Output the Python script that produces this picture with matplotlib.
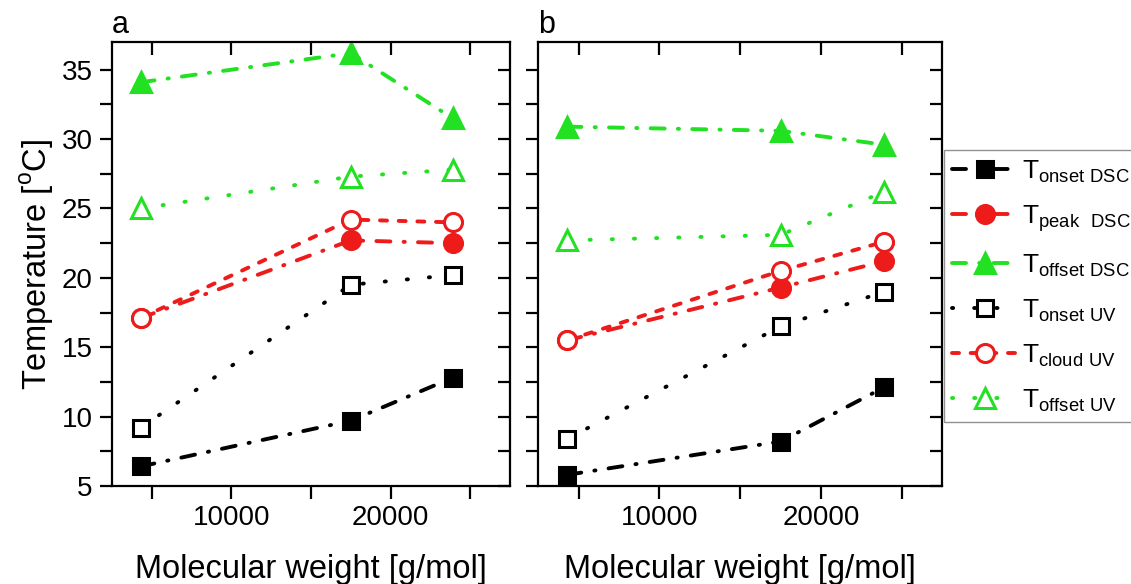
import matplotlib
matplotlib.use("Agg")
import matplotlib.pyplot as plt
from matplotlib.ticker import MultipleLocator

plt.rcParams['font.family'] = ['Liberation Sans', 'DejaVu Sans']
plt.rcParams['mathtext.fontset'] = 'custom'
plt.rcParams['mathtext.rm'] = 'Liberation Sans'

# molecular weights [g/mol]
mw = [4300, 17500, 23900]

# panel a
a_onset_dsc = [6.4, 9.7, 12.8]
a_peak_dsc = [17.1, 22.7, 22.5]
a_offset_dsc = [34.1, 36.2, 31.5]
a_onset_uv = [9.2, 19.5, 20.2]
a_cloud_uv = [17.1, 24.2, 24.0]
a_offset_uv = [25.0, 27.3, 27.8]

# panel b
b_onset_dsc = [5.8, 8.2, 12.1]
b_peak_dsc = [15.5, 19.3, 21.2]
b_offset_dsc = [30.9, 30.6, 29.6]
b_onset_uv = [8.4, 16.5, 19.0]
b_cloud_uv = [15.5, 20.5, 22.6]
b_offset_uv = [22.7, 23.1, 26.2]

labels = [r'T$_{\mathrm{onset\ DSC}}$', r'T$_{\mathrm{peak\ \ DSC}}$', r'T$_{\mathrm{offset\ DSC}}$',
          r'T$_{\mathrm{onset\ UV}}$', r'T$_{\mathrm{cloud\ UV}}$', r'T$_{\mathrm{offset\ UV}}$']

black = 'black'
red = '#ee1b1b'
green = '#22e022'
dashdot = (0, (3.6, 3.4, 0.3, 3.4))
dotted = (0, (0.3, 5.4))
shortdash = (0, (1.8, 3.0))

styles = [
    dict(color=black, marker='s', mfc=black, ls=dashdot, ms=12),
    dict(color=red, marker='o', mfc=red, ls=dashdot, ms=13),
    dict(color=green, marker='^', mfc=green, ls=dashdot, ms=14),
    dict(color=black, marker='s', mfc='white', ls=dotted, ms=11),
    dict(color=red, marker='o', mfc='white', ls=shortdash, ms=13),
    dict(color=green, marker='^', mfc='white', ls=dotted, ms=14),
]

fig = plt.figure(figsize=(11.31, 5.84), dpi=100)
ax1 = fig.add_axes([0.099, 0.168, 0.352, 0.760])
ax2 = fig.add_axes([0.476, 0.168, 0.357, 0.760])

series_a = [a_onset_dsc, a_peak_dsc, a_offset_dsc, a_onset_uv, a_cloud_uv, a_offset_uv]
series_b = [b_onset_dsc, b_peak_dsc, b_offset_dsc, b_onset_uv, b_cloud_uv, b_offset_uv]

handles = []
for ax, series in [(ax1, series_a), (ax2, series_b)]:
    for ys, st, lab in zip(series, styles, labels):
        h, = ax.plot(mw, ys, lw=2.8, mew=2.2, mec=st['color'], color=st['color'],
                     marker=st['marker'], mfc=st['mfc'], ls=st['ls'], ms=st['ms'],
                     dash_capstyle='round', label=lab)
        if ax is ax1:
            handles.append(h)
    ax.set_xlim(2500, 27500)
    ax.set_ylim(5, 37)
    ax.xaxis.set_major_locator(MultipleLocator(10000))
    ax.xaxis.set_minor_locator(MultipleLocator(5000))
    ax.yaxis.set_major_locator(MultipleLocator(5))
    ax.yaxis.set_minor_locator(MultipleLocator(2.5))
    for s in ax.spines.values():
        s.set_linewidth(1.6)
    ax.tick_params(axis='both', which='both', length=9, width=1.6, labelsize=20, pad=5,
                   direction='out', top=True, right=True)
    ax.set_xlabel('Molecular weight [g/mol]', fontsize=23.5, labelpad=16)
    # inward ticks on top and right
    for t in ax.xaxis.get_major_ticks() + ax.xaxis.get_minor_ticks():
        t.tick2line.set_marker(3)
    for t in ax.yaxis.get_major_ticks() + ax.yaxis.get_minor_ticks():
        t.tick2line.set_marker(0)

ax1.set_ylabel('Temperature [$^{\\mathrm{o}}$C]', fontsize=23.5, labelpad=4)
ax2.set_yticklabels([])

ax1.text(0.0, 1.005, 'a', transform=ax1.transAxes, fontsize=22, ha='left', va='bottom')
ax2.text(0.0, 1.005, 'b', transform=ax2.transAxes, fontsize=22, ha='left', va='bottom')

leg = fig.legend(handles=handles, loc='upper left', bbox_to_anchor=(0.835, 0.743),
                 fontsize=19, handlelength=2.5, handletextpad=0.15, labelspacing=0.7,
                 borderpad=0.3, borderaxespad=0, frameon=True, fancybox=False,
                 edgecolor='#777777')
leg.get_frame().set_linewidth(1.0)

fig.savefig('out.png', dpi=100)
